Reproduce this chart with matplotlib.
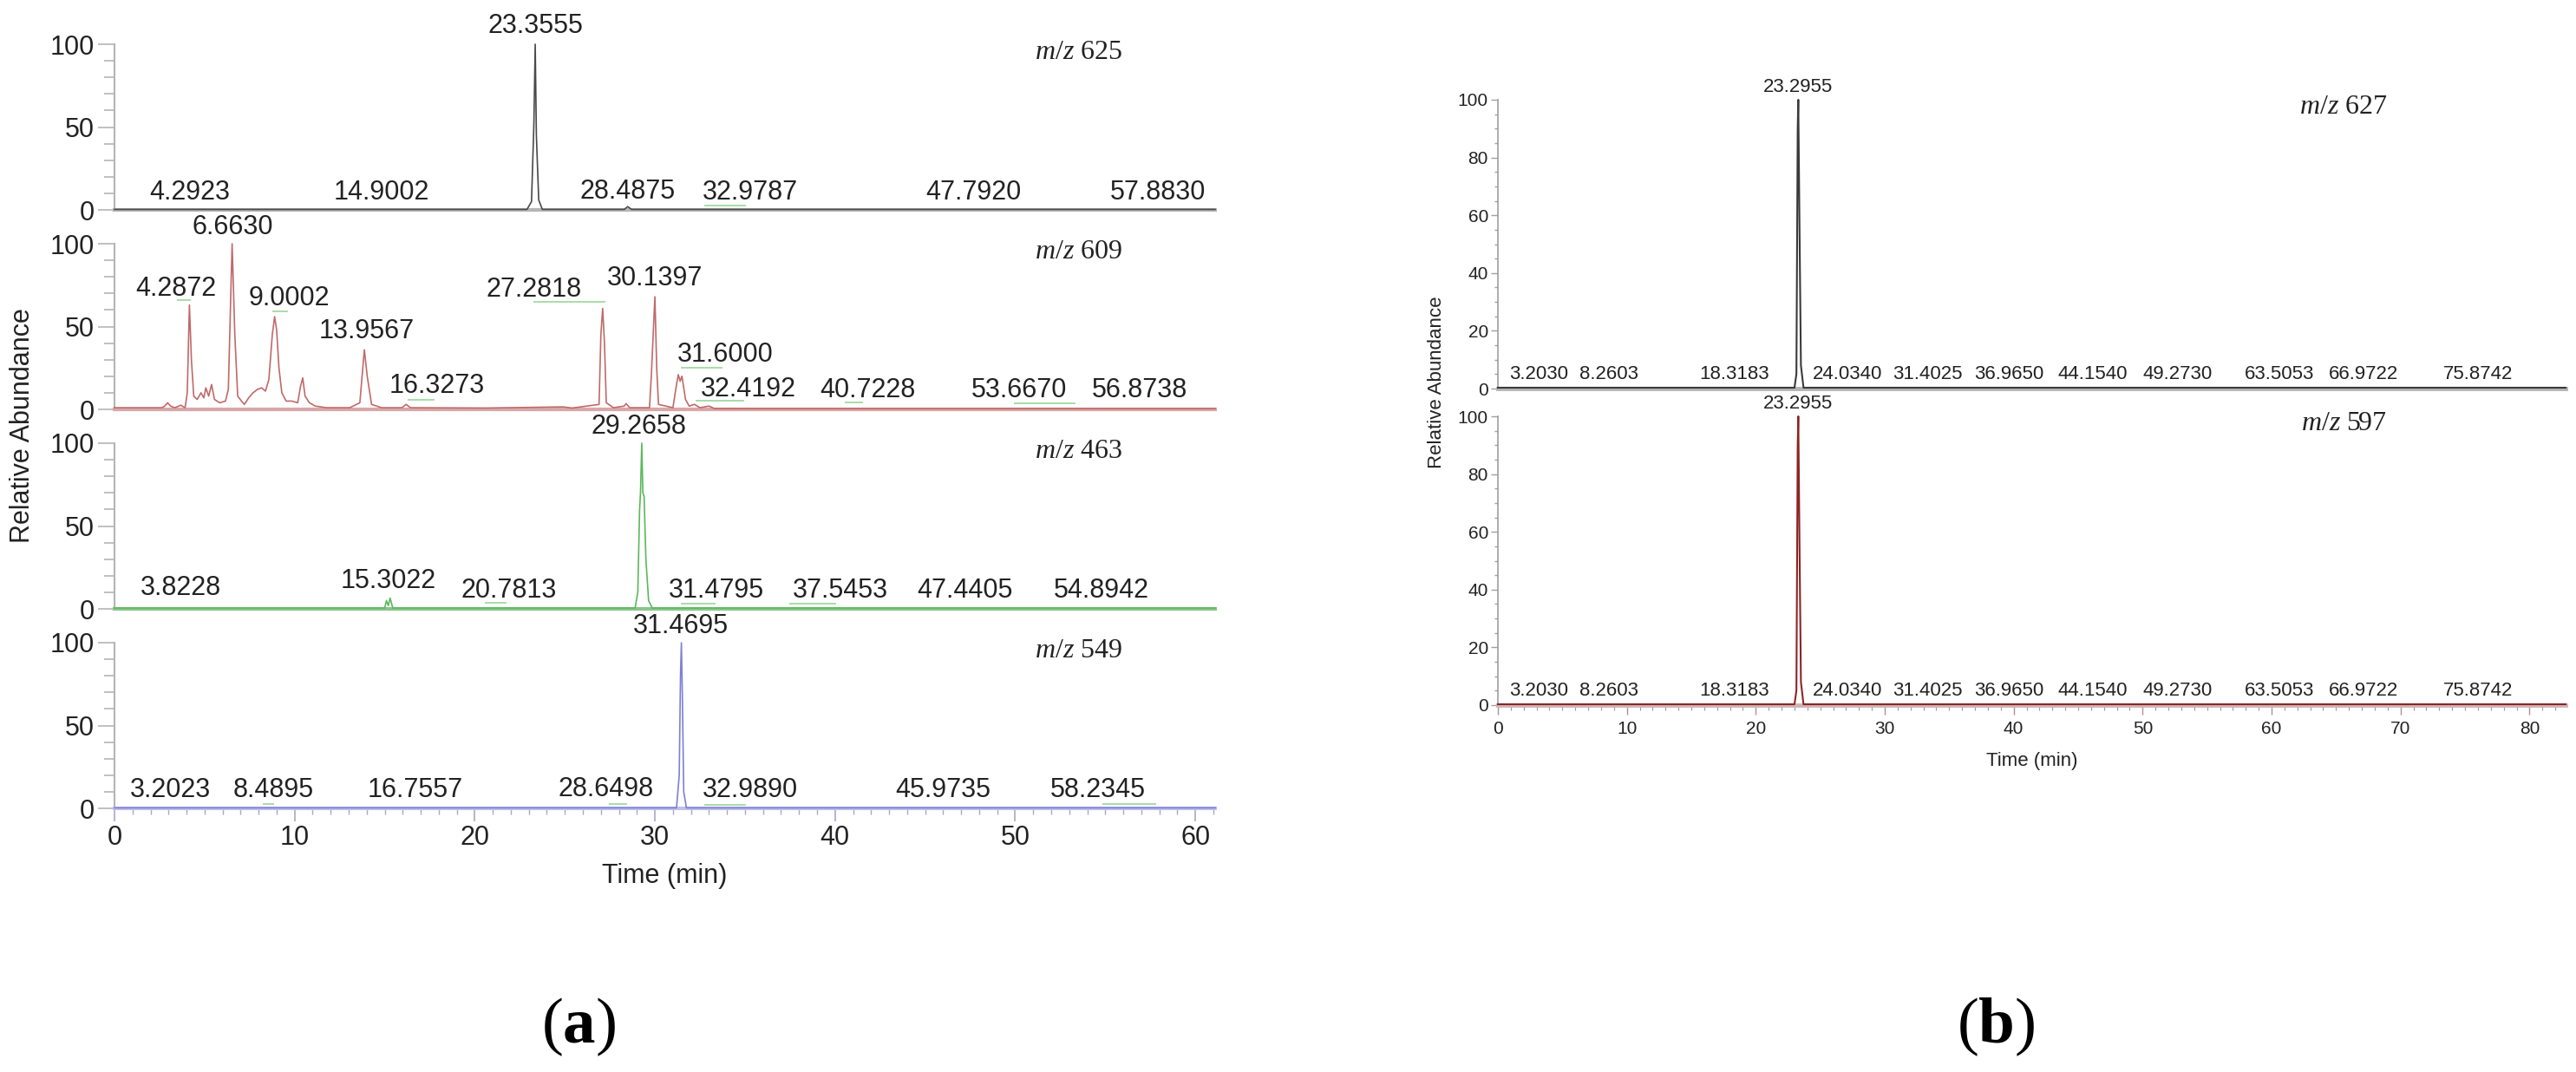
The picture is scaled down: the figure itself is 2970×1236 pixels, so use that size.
import matplotlib
matplotlib.use('Agg')
import matplotlib.pyplot as plt
from matplotlib import font_manager
from matplotlib.ticker import MultipleLocator

plt.rcParams['font.family'] = ['Liberation Sans', 'DejaVu Sans']
plt.rcParams['mathtext.fontset'] = 'custom'
plt.rcParams['mathtext.it'] = 'Liberation Serif:italic'
plt.rcParams['mathtext.rm'] = 'Liberation Serif'
plt.rcParams['mathtext.bf'] = 'Liberation Serif:bold'

# ---------------- panel (a) ----------------
# m/z 625
a1_t = [0, 22.9, 23.15, 23.28, 23.3555, 23.42, 23.55, 23.75, 28.3, 28.49, 28.7, 61.1]
a1_y = [0.3, 0.3, 5, 51, 100, 45, 6, 0.3, 0.3, 2, 0.3, 0.3]
a1_labels = ['23.3555', '4.2923', '14.9002', '28.4875', '32.9787', '47.7920', '57.8830']
a1_lab_x = [23.36, 4.2, 14.8, 28.5, 35.3, 47.7, 57.9]
a1_lab_y = [111, 10.4, 10.4, 11, 10.4, 10.4, 10.4]
a1_marks = [(32.8, 35.0, 2.6)]

# m/z 609
a2_t = [0, 2.63, 2.79, 2.95, 3.11, 3.35, 3.68, 3.92, 4.04, 4.16, 4.27, 4.40, 4.59, 4.80,
        4.96, 5.07, 5.23, 5.39, 5.55, 5.84, 6.16, 6.32, 6.53, 6.68, 6.84, 7.05, 7.21, 7.45,
        7.69, 7.93, 8.17, 8.38, 8.57, 8.76, 8.89, 9.00, 9.13, 9.29, 9.53, 9.85, 10.17, 10.33,
        10.45, 10.58, 10.82, 11.14, 11.78, 13.06, 13.62, 13.87, 14.03, 14.27, 14.83, 15.95,
        16.19, 16.43, 20.6, 24.9, 25.4, 26.9, 27.0, 27.1, 27.2, 27.3, 27.7, 28.3, 28.4, 28.6,
        29.7, 29.8, 30.0, 30.1, 30.2, 31.0, 31.2, 31.3, 31.4, 31.5, 31.7, 31.9, 32.2, 32.5,
        33.0, 33.3, 61.1]
a2_y = [1, 1, 2, 4, 2, 1, 2.5, 1, 10, 63, 30, 8, 6, 10, 7, 13, 8, 15, 6, 4, 5, 12, 100, 45,
        8, 5, 3, 7, 10, 12, 13, 11, 18, 45, 56, 48, 25, 10, 5, 5, 4, 14, 19, 8, 4, 2, 1, 1, 4,
        36, 20, 3, 1, 1, 3, 1, 0.8, 1.5, 0.8, 3, 45, 61, 40, 4, 1, 2, 3.5, 1, 1, 20, 68, 25, 3,
        1, 15, 21, 17, 20, 6, 2, 3, 1, 2, 0.5, 0.5]
a2_labels = ['6.6630', '4.2872', '9.0002', '13.9567', '16.3273', '27.2818', '30.1397',
             '31.6000', '32.4192', '40.7228', '53.6670', '56.8738']
a2_lab_x = [6.57, 3.4, 9.7, 14.0, 17.9, 23.3, 30.0, 33.9, 35.2, 41.8, 50.2, 56.9]
a2_lab_y = [110, 73, 67, 47, 14, 72, 79, 33, 12, 11.5, 11.5, 11.5]
a2_marks = [(3.5, 4.2, 66), (8.8, 9.6, 59), (23.3, 27.2, 65), (31.5, 33.7, 25),
            (32.3, 34.9, 5), (16.3, 17.7, 6), (40.6, 41.5, 4), (50.0, 53.3, 3.5)]

# m/z 463
a3_t = [0, 15.0, 15.1, 15.2, 15.3, 15.45, 28.9, 29.05, 29.15, 29.2, 29.27, 29.33, 29.4, 29.5, 29.65, 29.85, 61.1]
a3_y = [0.5, 0.5, 5, 2, 6.5, 0.5, 0.5, 10, 60, 70, 100, 70, 68, 30, 5, 0.5, 0.5]
a3_labels = ['29.2658', '3.8228', '15.3022', '20.7813', '31.4795', '37.5453', '47.4405', '54.8942']
a3_lab_x = [29.1, 3.7, 15.2, 21.9, 33.4, 40.3, 47.2, 54.8]
a3_lab_y = [110, 12.5, 16.7, 11, 11, 11, 11, 11]
a3_marks = [(20.6, 21.7, 3.6), (31.5, 33.3, 3), (37.5, 40.0, 3)]

# m/z 549
a4_t = [0, 31.2, 31.35, 31.42, 31.47, 31.52, 31.6, 31.75, 61.1]
a4_y = [0.3, 0.3, 20, 80, 100, 70, 10, 0.3, 0.3]
a4_labels = ['31.4695', '3.2023', '8.4895', '16.7557', '28.6498', '32.9890', '45.9735', '58.2345']
a4_lab_x = [31.45, 3.1, 8.8, 16.7, 27.3, 35.3, 46.0, 54.6]
a4_lab_y = [110, 11, 11, 11, 11.5, 11, 11, 11]
a4_marks = [(8.3, 8.8, 2.6), (27.5, 28.4, 2.6), (32.8, 35.0, 2), (54.9, 57.8, 2.5)]

a_mz = ['625', '609', '463', '549']

# ---------------- panel (b) ----------------
b_t = [0, 23.0, 23.15, 23.25, 23.2955, 23.38, 23.5, 23.7, 82.8]
b1_y = [0.3, 0.3, 5, 90, 100, 60, 8, 0.3, 0.3]
b2_y = [0.3, 0.3, 5, 90, 100, 60, 8, 0.3, 0.3]
b_labels = ['3.2030', '8.2603', '18.3183', '24.0340', '31.4025', '36.9650', '44.1540',
            '49.2730', '63.5053', '66.9722', '75.8742']
b_lab_x = [3.2, 8.6, 18.3, 27.1, 33.3, 39.6, 46.1, 52.7, 60.6, 67.1, 76.0]
b_top_label = '23.2955'
b_mz = ['627', '597']

W, H = 2970, 1236


def box(x0, x1, ytop, ybot):
    return [x0 / W, 1 - ybot / H, (x1 - x0) / W, (ybot - ytop) / H]


names = {f.name for f in font_manager.fontManager.ttflist}
if 'Liberation Sans Narrow' in names:
    bfont, bsize, btick = 'Liberation Sans Narrow', 19, 18
else:
    bfont, bsize, btick = 'Liberation Sans', 16, 15

fig = plt.figure(figsize=(W / 100, H / 100), dpi=100)
txt = '#222222'

# ---- (a) ----
a_rows = [(51, 242), (281, 472), (511, 702), (741, 932)]
a_data = [(a1_t, a1_y, a1_labels, a1_lab_x, a1_lab_y, a1_marks),
          (a2_t, a2_y, a2_labels, a2_lab_x, a2_lab_y, a2_marks),
          (a3_t, a3_y, a3_labels, a3_lab_x, a3_lab_y, a3_marks),
          (a4_t, a4_y, a4_labels, a4_lab_x, a4_lab_y, a4_marks)]
a_colors = ['#4a4a4a', '#c06a6a', '#5cb85c', '#7f7fd8']
a_base = ['#b5b5b5', '#d8a8a8', '#8cc48c', '#c0c0ea']

for i, (row, d, c, bc) in enumerate(zip(a_rows, a_data, a_colors, a_base)):
    t, y, labs, lx, ly, marks = d
    ax = fig.add_axes(box(132, 1401, row[0], row[1]))
    ax.plot(t, y, color=c, lw=1.2, clip_on=False, zorder=3)
    for x0, x1, my in marks:
        ax.plot([x0, x1], [my, my], color='#a8dca8', lw=1.4, zorder=2)
    for s, x, yy in zip(labs, lx, ly):
        ax.text(x, yy, s, ha='center', va='center', fontsize=22, color=txt)
    ax.text(53.5, 95, r'$m/z$ ' + a_mz[i], ha='center', va='center',
            fontsize=23, family='Liberation Serif', color=txt)
    ax.set_xlim(0, 61.1)
    ax.set_ylim(0, 100)
    for sp in ['top', 'right']:
        ax.spines[sp].set_visible(False)
    ax.spines['left'].set_color('#b5b5b5')
    ax.spines['left'].set_linewidth(1.5)
    ax.spines['bottom'].set_color(bc)
    ax.spines['bottom'].set_linewidth(3)
    ax.yaxis.set_major_locator(MultipleLocator(50))
    ax.yaxis.set_minor_locator(MultipleLocator(10))
    ax.tick_params(axis='y', which='major', length=14, width=1.2, color='#b5b5b5',
                   labelsize=22, labelcolor=txt, pad=3)
    ax.tick_params(axis='y', which='minor', length=9, width=1.2, color='#b5b5b5')
    if i < 3:
        ax.tick_params(axis='x', which='both', bottom=False, labelbottom=False)
    else:
        ax.xaxis.set_major_locator(MultipleLocator(10))
        ax.xaxis.set_minor_locator(MultipleLocator(1))
        ax.tick_params(axis='x', which='major', length=11, width=1.2, color='#a8a8c8',
                       labelsize=22, labelcolor=txt, pad=3)
        ax.tick_params(axis='x', which='minor', length=5, width=1, color='#a8a8c8')

fig.text(766 / W, 1 - 1010 / H, 'Time (min)', ha='center', va='center', fontsize=22, color=txt)
fig.text(26 / W, 1 - 491 / H, 'Relative Abundance', ha='center', va='center',
         rotation=90, fontsize=22, color=txt)

# ---- (b) ----
b_rows = [(115, 448), (480, 813)]
b_colors = ['#3a3a3a', '#8b2525']
b_base = ['#b4b4b4', '#cdb5b5']
for i, (row, yv, c, bc) in enumerate(zip(b_rows, [b1_y, b2_y], b_colors, b_base)):
    ax = fig.add_axes(box(1727, 2958, row[0], row[1]))
    ax.plot(b_t, yv, color=c, lw=1.5, clip_on=False, zorder=3)
    ax.text(23.2955, 104.5, b_top_label, ha='center', va='center',
            fontsize=bsize, family=bfont, color=txt)
    for s, x in zip(b_labels, b_lab_x):
        ax.text(x, 4.9, s, ha='center', va='center', fontsize=bsize, family=bfont, color=txt)
    ax.text(65.6, 97.3, r'$m/z$ ' + b_mz[i], ha='center', va='center',
            fontsize=23, family='Liberation Serif', color=txt)
    ax.set_xlim(0, 82.8)
    ax.set_ylim(0, 100)
    for sp in ['top', 'right']:
        ax.spines[sp].set_visible(False)
    ax.spines['left'].set_color('#a0a0a0')
    ax.spines['left'].set_linewidth(1.2)
    ax.spines['bottom'].set_color(bc)
    ax.spines['bottom'].set_linewidth(3.5)
    ax.yaxis.set_major_locator(MultipleLocator(20))
    ax.yaxis.set_minor_locator(MultipleLocator(5))
    ax.tick_params(axis='y', which='major', length=6, width=1, color='#a0a0a0',
                   labelsize=btick, labelcolor=txt, pad=2)
    ax.tick_params(axis='y', which='minor', length=3, width=1, color='#a0a0a0')
    for lab in ax.get_yticklabels():
        lab.set_family(bfont)
    if i == 0:
        ax.tick_params(axis='x', which='both', bottom=False, labelbottom=False)
    else:
        ax.xaxis.set_major_locator(MultipleLocator(10))
        ax.xaxis.set_minor_locator(MultipleLocator(1))
        ax.tick_params(axis='x', which='major', length=8, width=1, color='#b09090',
                       labelsize=btick, labelcolor=txt, pad=5)
        ax.tick_params(axis='x', which='minor', length=4, width=0.8, color='#b09090')
        for lab in ax.get_xticklabels():
            lab.set_family(bfont)

fig.text(2343 / W, 1 - 877 / H, 'Time (min)', ha='center', va='center',
         fontsize=bsize, family=bfont, color=txt)
fig.text(1657 / W, 1 - 441 / H, 'Relative Abundance', ha='center', va='center',
         rotation=90, fontsize=bsize, family=bfont, color=txt)

# captions
fig.text(667 / W, 1 - 1184 / H, r'($\mathbf{a}$)', ha='center', va='center',
         fontsize=54, family='Liberation Serif', color='black')
fig.text(2301 / W, 1 - 1184 / H, r'($\mathbf{b}$)', ha='center', va='center',
         fontsize=54, family='Liberation Serif', color='black')

fig.savefig('out.png', dpi=100)
